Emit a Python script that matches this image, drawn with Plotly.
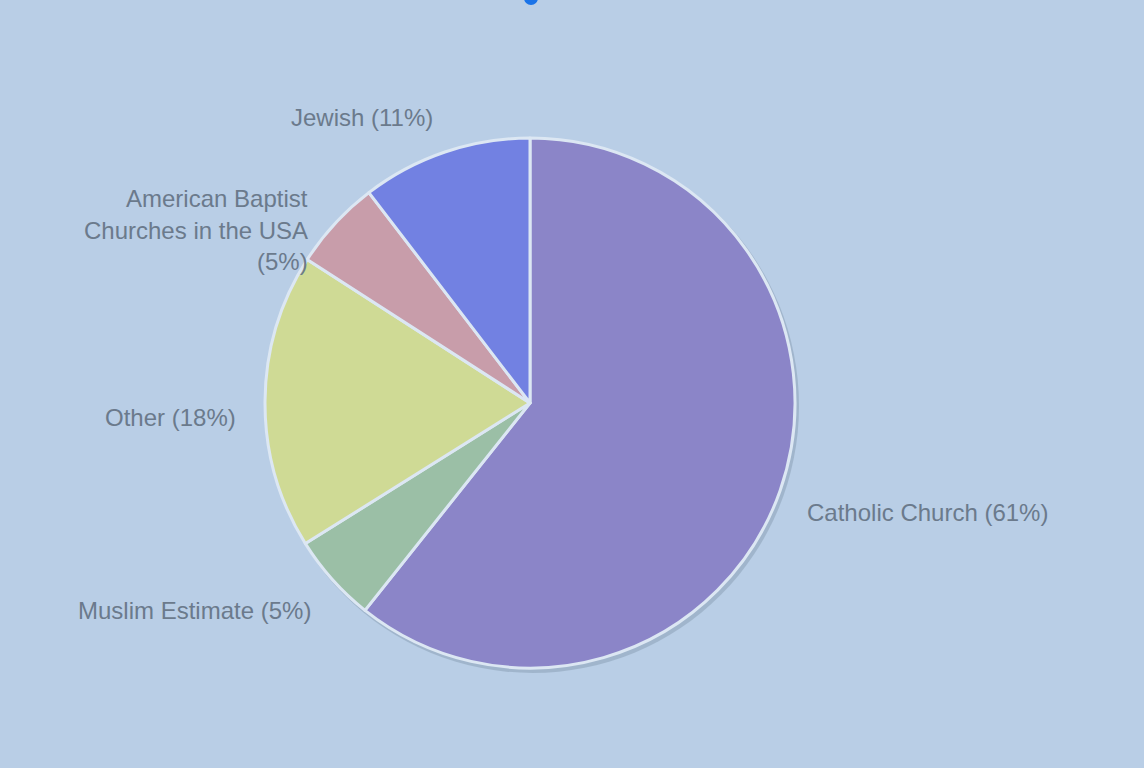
import plotly.graph_objects as go

W, H = 1144, 768
labels = ["Catholic Church", "Muslim Estimate", "Other", "American Baptist Churches in the USA", "Jewish"]
values = [60.7, 5.4, 18.0, 5.5, 10.4]
colors = ["#8B85C8", "#9BBFA6", "#CFDA95", "#C89DAA", "#7281E2"]

# label texts (lines) and their pixel anchors
label_lines = [
    (["Catholic Church (61%)"], 805, 512, "left"),
    (["Muslim Estimate (5%)"], 313, 610, "right"),
    (["Other (18%)"], 238, 417, "right"),
    (["American Baptist", "Churches in the USA", "(5%)"], 310, 198, "right"),
    (["Jewish (11%)"], 362, 117, "center"),
]

cx, cy, r = 530, 403, 265
BG = "#B9CEE6"
TXT = "#6B7A8C"

fig = go.Figure()
fig.add_trace(go.Pie(
    labels=labels, values=values, sort=False, direction="clockwise", rotation=0,
    marker=dict(colors=colors, line=dict(color="#DCE7F3", width=3)),
    textinfo="none", hoverinfo="label+percent", showlegend=False,
    domain=dict(x=[(cx - r) / W, (cx + r) / W], y=[1 - (cy + r) / H, 1 - (cy - r) / H]),
))

shapes = [
    # soft shadow under the pie
    dict(type="circle", xref="paper", yref="paper", layer="below",
         x0=(cx - r + 1) / W, x1=(cx + r + 4) / W, y0=1 - (cy + r + 5) / H, y1=1 - (cy - r + 1) / H,
         fillcolor="#9AAFC6", line=dict(width=0), opacity=0.8),
    # blue dot at the top edge
    dict(type="circle", xref="paper", yref="paper",
         x0=(531 - 7) / W, x1=(531 + 7) / W, y0=1 - (-2 + 7) / H, y1=1 - (-2 - 7) / H,
         fillcolor="#1A73E8", line=dict(width=0)),
]

annotations = []
for lines, px, py, anchor in label_lines:
    for i, t in enumerate(lines):
        annotations.append(dict(
            text=t, xref="paper", yref="paper", x=px / W, y=1 - (py + 32 * i) / H,
            xanchor=anchor, yanchor="middle", showarrow=False,
            font=dict(family="Liberation Sans, Arial, sans-serif", size=24, color=TXT),
        ))

fig.update_layout(
    width=W, height=H, margin=dict(l=0, r=0, t=0, b=0),
    paper_bgcolor=BG, plot_bgcolor=BG,
    shapes=shapes, annotations=annotations,
)
fig.write_html("out.html", config={"displayModeBar": False},
               post_script="document.body.style.margin='0';document.body.style.overflow='hidden';")
